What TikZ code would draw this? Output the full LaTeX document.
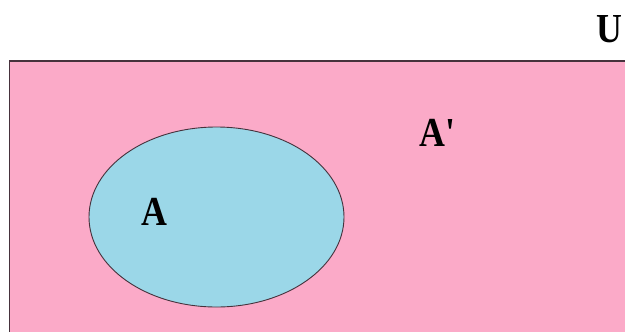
\documentclass[tikz,border=0pt]{standalone}
\usepackage{fontspec}
\setmainfont{Liberation Serif}[BoldFont={Liberation Serif Bold}]
\definecolor{uni}{RGB}{251,170,200}
\definecolor{seta}{RGB}{155,215,232}
\definecolor{edge}{RGB}{70,50,60}
\begin{document}
\begin{tikzpicture}[x=1bp,y=-1bp,
  lab/.style={inner sep=0pt,anchor=base,font=\fontsize{36}{36}\selectfont\bfseries}]
\clip (0,0) rectangle (625,331);
\fill[white] (0,0) rectangle (625,331);
\draw[fill=uni,draw=edge,line width=1.3bp] (9.5,61) rectangle (640,345);
\draw[fill=seta,draw=edge,line width=0.9bp] (216.5,217) ellipse [x radius=127.5,y radius=90];
\node[lab] (u) at (609.5,42) {\scalebox{1}[1.15]{U}};
\node[lab,anchor=base west] (ac) at (419,146) {\scalebox{1}[1.15]{A{\addfontfeatures{Ligatures=TeXOff}'}}};
\node[lab] (a) at (154.5,225) {\scalebox{1}[1.15]{A}};
\end{tikzpicture}
\end{document}
